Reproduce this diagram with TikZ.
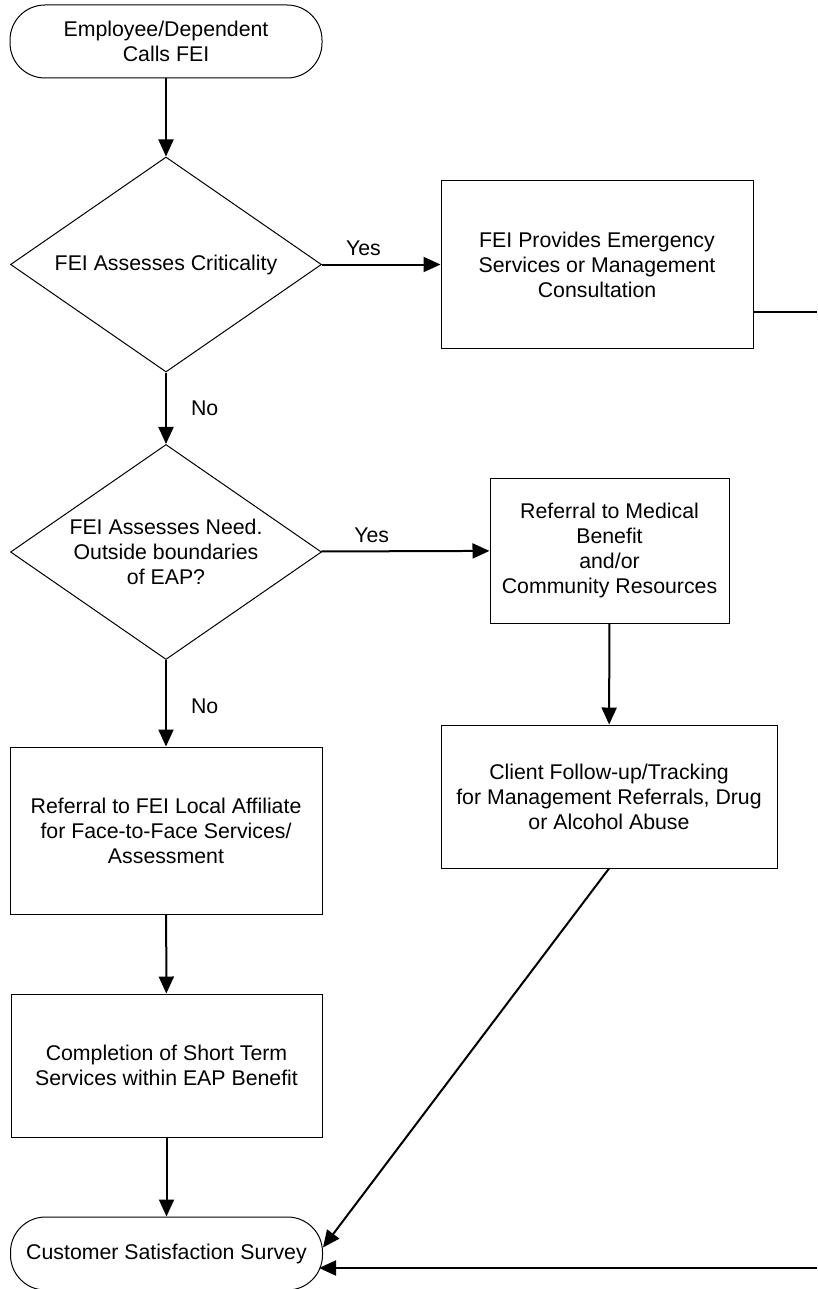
\documentclass[tikz,border=0pt]{standalone}
\usepackage{fontspec}
\setmainfont{Liberation Sans}
\usepackage{tikz}
\usetikzlibrary{shapes.geometric, arrows.meta}

\begin{document}
\begin{tikzpicture}[x=1pt, y=-1pt,
    every node/.style={font=\fontsize{21.3}{25}\selectfont, align=center, inner sep=0pt},
    terminal/.style={draw, line width=1pt, rounded corners=35pt, minimum width=312pt},
    process/.style={draw, line width=1pt, rectangle},
    decision/.style={draw, line width=1pt, diamond, shape aspect=1.447, minimum width=311pt, minimum height=215pt},
    flow/.style={line width=2pt, -{Triangle[length=17pt, width=15pt]}}]
            \useasboundingbox (0,0) rectangle (817,1289);

            % Nodes
            \node[terminal, minimum height=73pt] (start) at (166, 41.5) {Employee/Dependent\\Calls FEI};
            \node[decision] (crit) at (166, 264.5) {FEI Assesses Criticality};
            \node[process, minimum width=312pt, minimum height=167pt] (emerg) at (597, 264.5) {FEI Provides Emergency\\Services or Management\\Consultation};
            \node[decision] (need) at (166, 552) {FEI Assesses Need.\\Outside boundaries\\of EAP?};
            \node[process, minimum width=239pt, minimum height=145pt] (medical) at (609.5, 550.5) {Referral to Medical\\Benefit\\and/or\\Community Resources};
            \node[process, minimum width=312pt, minimum height=167pt] (affil) at (166, 830.5) {Referral to FEI Local Affiliate\\for Face-to-Face Services/\\Assessment};
            \node[process, minimum width=336pt, minimum height=143pt] (track) at (609, 796.5) {Client Follow-up/Tracking\\for Management Referrals, Drug\\or Alcohol Abuse};
            \node[process, minimum width=311pt, minimum height=143pt] (short) at (166.5, 1065.5) {Completion of Short Term\\Services within EAP Benefit};
            \node[terminal, minimum height=73pt] (survey) at (166.5, 1253.5) {Customer Satisfaction Survey};

            % Edge of the page
            \coordinate (out1) at (817, 312);
            \coordinate (out2) at (817, 1268);

            % Edges
            \draw[flow] (start) -- (crit);
            \draw[flow] (crit) -- (emerg) node[pos=0.35, above=8pt] {Yes};
            \draw[flow] (crit) -- (need) node[midway, anchor=west, xshift=24pt] {No};
            \draw[flow] (need) -- (medical) node[pos=0.3, above=8pt] {Yes};
            \draw[flow] (need) -- (affil) node[midway, anchor=west, xshift=24pt, yshift=-3pt] {No};
            \draw[flow] (medical) -- (track);
            \draw[flow] (affil) -- (short);
            \draw[flow] (short) -- (survey);
            \draw[flow] (track.south) -- ([yshift=6pt]survey.east);
            \draw[line width=2pt] (out1 -| emerg.east) -- (out1);
            \draw[flow] (out2) -- ([xshift=-4pt]out2 -| survey.east);
        \end{tikzpicture}
\end{document}
